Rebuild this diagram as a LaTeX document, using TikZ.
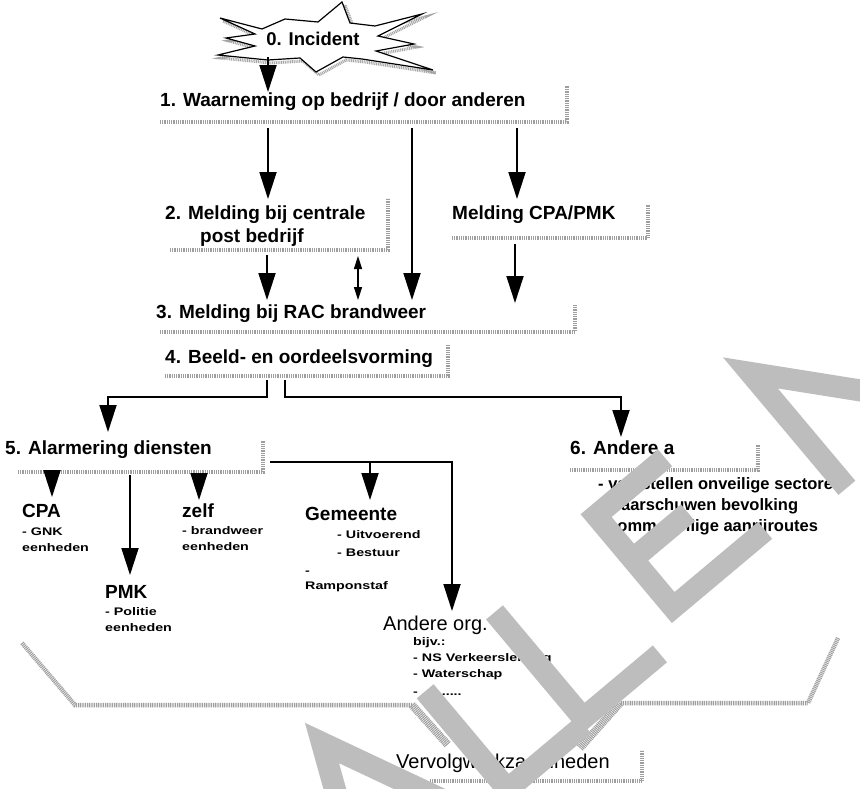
\documentclass[tikz,border=0pt]{standalone}
\usepackage{fontspec}
\setmainfont{Liberation Sans}
\newfontfamily\widefont[FakeStretch=1.3]{Liberation Sans}
\usetikzlibrary{arrows.meta}
\begin{document}
\begin{tikzpicture}[x=1pt,y=-1pt,
  hd/.style={font=\fontsize{19}{22}\selectfont\bfseries,inner sep=0pt,anchor=base west},
  rg/.style={font=\fontsize{20}{24}\selectfont,inner sep=0pt,anchor=base west},
  ls/.style={font=\fontsize{16.5}{20}\selectfont\bfseries,inner sep=0pt,anchor=base west},
  sm/.style={font=\widefont\fontsize{11}{13}\selectfont\bfseries,inner sep=0pt,anchor=base west},
  shd/.style={draw=black!38,line width=4.5pt,dash pattern=on 1pt off 0.8pt},
  arr/.style={line width=1.8pt,-{Triangle[width=17pt,length=27pt]}},
  dbl/.style={line width=1.5pt,{Triangle[width=8pt,length=13pt]}-{Triangle[width=8pt,length=13pt]}},
  wm/.style={draw=black!26,line width=22pt,line join=miter},
]
\useasboundingbox (0,0) rectangle (860,788);
\fill[white] (0,0) rectangle (860,788);

% star with stippled shadow
\begin{scope}[shift={(3,3)}]
\draw[draw=black!35,line width=3pt,dash pattern=on 1pt off 0.8pt]
 (220,18) -- (262,29) -- (285,19) -- (318,22) -- (342,2) -- (350,23) -- (375,26) -- (422,14) -- (378,36) -- (414,44) -- (376,51) -- (433,70) -- (362,59) -- (343,57) -- (316,72) -- (300,58) -- (268,60) -- (218,55) -- (255,46) -- (226,38) -- (255,34) -- cycle;
\end{scope}
\draw[fill=white,line width=1.2pt]
 (220,18) -- (262,29) -- (285,19) -- (318,22) -- (342,2) -- (350,23) -- (375,26) -- (422,14) -- (378,36) -- (414,44) -- (376,51) -- (433,70) -- (362,59) -- (343,57) -- (316,72) -- (300,58) -- (268,60) -- (218,55) -- (255,46) -- (226,38) -- (255,34) -- cycle;
\node[font=\fontsize{18.5}{22}\selectfont\bfseries,inner sep=0pt] (t0) at (313,39) {0. Incident};

% stippled shadows of the text boxes
\draw[shd] (160,122) -- (567,122) -- (567,86);
\draw[shd] (170,250) -- (388,250) -- (388,198);
\draw[shd] (452,238) -- (648,238) -- (648,205);
\draw[shd] (160,332) -- (575,332) -- (575,305);
\draw[shd] (165,376) -- (448,376) -- (448,345);
\draw[shd] (18,472) -- (263,472) -- (263,440);
\draw[shd] (570,470) -- (758,470) -- (758,445);
\draw[shd] (430,781) -- (642,781) -- (642,750);
% funnel
\draw[shd] (22,643) -- (75,705) -- (412,705);
\draw[shd,line width=8pt] (412,705) -- (448,745);
\draw[shd] (838,638) -- (808,703) -- (620,703);
\draw[shd,line width=8pt] (620,703) -- (580,748);

% texts
\node[hd] (t1) at (160,106) {1. Waarneming op bedrijf / door anderen};
\node[hd] (t2) at (165,219) {2. Melding bij centrale};
\node[hd] (t2b) at (200,242) {post bedrijf};
\node[hd] (tc) at (452,219) {Melding CPA/PMK};
\node[hd] (t3) at (156,318) {3. Melding bij RAC brandweer};
\node[hd] (t4) at (165,363) {4. Beeld- en oordeelsvorming};
\node[hd] (t5) at (5,454) {5. Alarmering diensten};
\node[hd] (t6) at (570,454) {6. Andere a};
\node[ls] (l61) at (598,489) {- vaststellen onveilige sectoren};
\node[ls] (l62) at (598,510) {- waarschuwen bevolking};
\node[ls] (l63) at (598,531) {- comm. veilige aanrijroutes};
\node[ls] (l64) at (612,552) {..........};

\node[hd] (cpa) at (22,517) {CPA};
\node[sm] (cpa1) at (22,535) {- GNK};
\node[sm] (cpa2) at (22,551) {eenheden};
\node[hd] (zelf) at (182,517) {zelf};
\node[sm] (zelf1) at (182,534) {- brandweer};
\node[sm] (zelf2) at (182,550) {eenheden};
\node[hd] (pmk) at (105,598) {PMK};
\node[sm] (pmk1) at (105,615) {- Politie};
\node[sm] (pmk2) at (105,631) {eenheden};
\node[hd] (gem) at (305,520) {Gemeente};
\node[sm] (gem1) at (337,538) {- Uitvoerend};
\node[sm] (gem2) at (337,556) {- Bestuur};
\node[sm] (gem3) at (305,574) {-};
\node[sm] (gem4) at (305,589) {Ramponstaf};
\node[rg] (and) at (383,630) {Andere org.};
\node[sm] (and1) at (413,645) {bijv.:};
\node[sm] (and2) at (413,661) {- NS Verkeersleiding};
\node[sm] (and3) at (413,677) {- Waterschap};
\node[sm] (and4) at (413,695) {- ..........};
\node[rg] (verv) at (396,768) {Vervolgwerkzaamheden};

% connectors
\coordinate (a01s) at (268,57); \coordinate (a01e) at (268,92);
\coordinate (a12s) at (268,128); \coordinate (a12e) at (268,199);
\coordinate (a13s) at (412,128); \coordinate (a13e) at (412,300);
\coordinate (a1cs) at (517,128); \coordinate (a1ce) at (517,199);
\coordinate (a23s) at (267,255); \coordinate (a23e) at (267,300);
\coordinate (d23s) at (358,256); \coordinate (d23e) at (358,300);
\coordinate (ac3s) at (515,244); \coordinate (ac3e) at (515,303);
\draw[arr] (a01s) -- (a01e);
\draw[arr] (a12s) -- (a12e);
\draw[arr] (a13s) -- (a13e);
\draw[arr] (a1cs) -- (a1ce);
\draw[arr] (a23s) -- (a23e);
\draw[dbl] (d23s) -- (d23e);
\draw[arr] (ac3s) -- (ac3e);

\coordinate (a45s) at (267,380); \coordinate (a45e) at (108,432);
\coordinate (a46s) at (285,380); \coordinate (a46e) at (621,437);
\draw[arr] (a45s) |- (187,397) -| (a45e);
\draw[arr] (a46s) |- (450,397) -| (a46e);

\coordinate (b5s) at (270,462); \coordinate (b5and) at (452,611);
\coordinate (b5br) at (370,462); \coordinate (b5gem) at (370,500);
\draw[arr] (b5s) -| (b5and);
\draw[arr] (b5br) -- (b5gem);
\coordinate (c5cpa) at (52,475); \coordinate (c5cpae) at (52,497);
\coordinate (c5pmk) at (130,475); \coordinate (c5pmke) at (130,575);
\coordinate (c5zelf) at (199,475); \coordinate (c5zelfe) at (199,500);
\draw[arr] (c5cpa) -- (c5cpae);
\draw[arr] (c5pmk) -- (c5pmke);
\draw[arr] (c5zelf) -- (c5zelfe);

% watermark
\begin{scope}
\clip (0,0) rectangle (860,788);
\draw[wm] (460,808) -- (322,743) -- (363,890);
\draw[wm] (425.2,691.3) -- (507.5,789.3) -- (584,725);
\draw[wm] (494.5,612.4) -- (583.3,718.2) -- (659.9,653.9);
\draw[wm] (665,457.8) -- (596.1,515.6) -- (673.2,607.5) -- (765.1,530.4);
\draw[wm] (632.7,559.2) -- (688,512.8);
\draw[wm] (846.9,487.8) -- (750.4,372.9) -- (946.5,404.2);
\end{scope}
\end{tikzpicture}
\end{document}
